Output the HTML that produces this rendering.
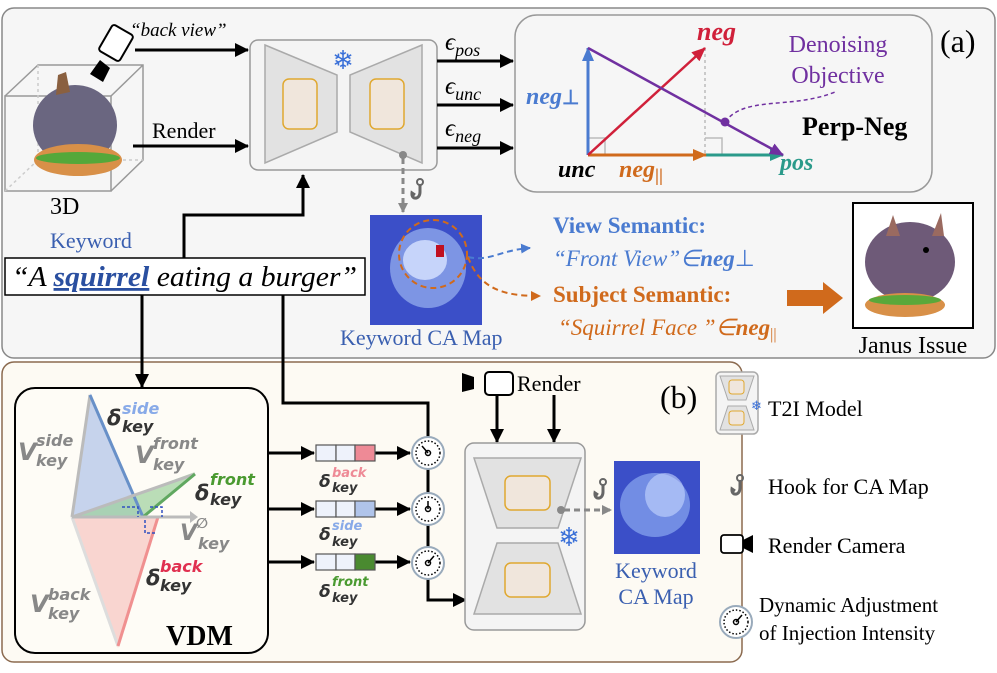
<!DOCTYPE html>
<html><head><meta charset="utf-8"><style>
body{margin:0;background:#fff}
svg text{font-family:"Liberation Serif",serif}
.sb{font-family:"DejaVu Sans",sans-serif;font-weight:bold;font-style:italic}
</style></head><body>
<svg width="997" height="668" viewBox="0 0 997 668" xmlns="http://www.w3.org/2000/svg">
<defs>
<marker id="ak" markerWidth="14" markerHeight="14" refX="13" refY="7" orient="auto" markerUnits="userSpaceOnUse"><path d="M0,0 L14,7 L0,14z" fill="#000"/></marker>
<marker id="ag" markerWidth="10" markerHeight="10" refX="9" refY="5" orient="auto" markerUnits="userSpaceOnUse"><path d="M0,0 L10,5 L0,10z" fill="#888"/></marker>
<marker id="ar" markerWidth="14" markerHeight="12" refX="13" refY="6" orient="auto" markerUnits="userSpaceOnUse"><path d="M0,0 L14,6 L0,12z" fill="#d0203a"/></marker>
<marker id="abl" markerWidth="14" markerHeight="12" refX="13" refY="6" orient="auto" markerUnits="userSpaceOnUse"><path d="M0,0 L14,6 L0,12z" fill="#4a7bd0"/></marker>
<marker id="ate" markerWidth="14" markerHeight="12" refX="13" refY="6" orient="auto" markerUnits="userSpaceOnUse"><path d="M0,0 L14,6 L0,12z" fill="#2a9a8a"/></marker>
<marker id="aor" markerWidth="14" markerHeight="12" refX="13" refY="6" orient="auto" markerUnits="userSpaceOnUse"><path d="M0,0 L14,6 L0,12z" fill="#d06a1c"/></marker>
<marker id="apu" markerWidth="14" markerHeight="12" refX="13" refY="6" orient="auto" markerUnits="userSpaceOnUse"><path d="M0,0 L14,6 L0,12z" fill="#7030a0"/></marker>
<marker id="adb" markerWidth="10" markerHeight="10" refX="9" refY="5" orient="auto" markerUnits="userSpaceOnUse"><path d="M0,0 L10,5 L0,10z" fill="#4a7bd0"/></marker>
<marker id="ado" markerWidth="10" markerHeight="10" refX="9" refY="5" orient="auto" markerUnits="userSpaceOnUse"><path d="M0,0 L10,5 L0,10z" fill="#d06a1c"/></marker>
<g id="dial"><circle r="16" fill="#fff" stroke="#9ab" stroke-width="2"/><circle r="12" fill="none" stroke="#000" stroke-width="1.5" stroke-dasharray="1.5 2"/><circle r="2.5" fill="none" stroke="#000" stroke-width="1.5"/></g>
<g id="hook"><circle cx="0" cy="-8" r="3" fill="none" stroke="#666" stroke-width="2"/><path d="M0,-5 V2 M0,2 C0,10 -9,10 -8,3 L-5,5" fill="none" stroke="#666" stroke-width="3"/></g>
</defs>

<rect x="2" y="8" width="993" height="350" rx="12" fill="#f6f6f6" stroke="#888" stroke-width="1.5"/>
<rect x="2" y="362" width="740" height="300" rx="12" fill="#fdfaf3" stroke="#8b6a4f" stroke-width="1.5"/>

<g fill="none" stroke="#999" stroke-width="1.5">
<rect x="5" y="96" width="106" height="95"/>
<path d="M5,96 L38,65 L143,65 L143,160 L111,191 M111,96 L143,65"/>
<path d="M38,65 V160 H143 M38,160 L5,191" stroke-dasharray="3 3" stroke="#ccc"/>
</g>
<ellipse cx="75" cy="125" rx="42" ry="40" fill="#6a6680"/>
<ellipse cx="78" cy="160" rx="44" ry="16" fill="#d89048"/>
<ellipse cx="78" cy="158" rx="42" ry="6" fill="#55a83a"/>
<path d="M58,75 L66,72 L70,92 L56,95z" fill="#8a6040"/>
<rect x="104" y="28" width="24" height="30" rx="3" transform="rotate(30 116 43)" fill="#fff" stroke="#000" stroke-width="2"/>
<path d="M100,60 L110,68 L103,82 L90,74z" fill="#000"/>
<text x="130" y="36" font-size="19" font-style="italic">“back view”</text>
<line x1="135" y1="50" x2="248" y2="50" stroke="#000" stroke-width="3" marker-end="url(#ak)"/>
<text x="152" y="138" font-size="22">Render</text>
<line x1="133" y1="146" x2="248" y2="146" stroke="#000" stroke-width="3" marker-end="url(#ak)"/>
<text x="50" y="214" font-size="24">3D</text>

<rect x="250" y="40" width="187" height="130" rx="8" fill="#f4f4f4" stroke="#999" stroke-width="1.5"/>
<path d="M265,45 L337,75 L337,132 L265,163z" fill="#e2e2e2" stroke="#aaa" stroke-width="1.5"/>
<path d="M422,45 L350,75 L350,132 L422,163z" fill="#e2e2e2" stroke="#aaa" stroke-width="1.5"/>
<rect x="283" y="79" width="34" height="50" rx="6" fill="#f0e6dc" stroke="#e0a830" stroke-width="1.5"/>
<rect x="370" y="79" width="34" height="50" rx="6" fill="#f0e6dc" stroke="#e0a830" stroke-width="1.5"/>
<text x="343" y="69" font-size="26" fill="#3a70d8" text-anchor="middle" font-family="DejaVu Sans">❄</text>
<circle cx="403" cy="155" r="4" fill="#888"/>
<line x1="403" y1="158" x2="403" y2="212" stroke="#888" stroke-width="3" stroke-dasharray="6 4" marker-end="url(#ag)"/>
<use href="#hook" x="420" y="190"/>

<text x="445" y="50" font-size="25" font-style="italic">ϵ<tspan font-size="18" dy="6">pos</tspan></text>
<text x="445" y="94" font-size="25" font-style="italic">ϵ<tspan font-size="18" dy="6">unc</tspan></text>
<text x="445" y="136" font-size="25" font-style="italic">ϵ<tspan font-size="18" dy="6">neg</tspan></text>
<line x1="437" y1="61" x2="513" y2="61" stroke="#000" stroke-width="3" marker-end="url(#ak)"/>
<line x1="437" y1="105" x2="513" y2="105" stroke="#000" stroke-width="3" marker-end="url(#ak)"/>
<line x1="437" y1="148" x2="513" y2="148" stroke="#000" stroke-width="3" marker-end="url(#ak)"/>

<rect x="515" y="15" width="417" height="177" rx="22" fill="#f6f6f6" stroke="#999" stroke-width="1.5"/>
<line x1="705" y1="48" x2="705" y2="155" stroke="#bbb" stroke-width="1.5" stroke-dasharray="3 3"/>
<path d="M588,138 H605 V155 M705,138 H722 V155" fill="none" stroke="#bbb" stroke-width="1.5"/>
<line x1="588" y1="155" x2="783" y2="155" stroke="#2a9a8a" stroke-width="3" marker-end="url(#ate)"/>
<line x1="588" y1="155" x2="706" y2="155" stroke="#d06a1c" stroke-width="3" marker-end="url(#aor)"/>
<line x1="588" y1="155" x2="588" y2="48" stroke="#4a7bd0" stroke-width="3" marker-end="url(#abl)"/>
<line x1="588" y1="155" x2="705" y2="48" stroke="#d0203a" stroke-width="2.5" marker-end="url(#ar)"/>
<line x1="588" y1="48" x2="783" y2="155" stroke="#7030a0" stroke-width="2.5" marker-end="url(#apu)"/>
<circle cx="725" cy="122" r="4.5" fill="#7030a0"/>
<path d="M725,122 C745,95 790,110 835,92" fill="none" stroke="#7030a0" stroke-width="1.5" stroke-dasharray="4 3"/>
<text x="697" y="40" font-size="26" font-weight="bold" font-style="italic" fill="#d0203a">neg</text>
<text x="838" y="52" font-size="24" fill="#7030a0" text-anchor="middle">Denoising</text>
<text x="838" y="83" font-size="24" fill="#7030a0" text-anchor="middle">Objective</text>
<text x="802" y="135" font-size="26" font-weight="bold">Perp-Neg</text>
<text x="526" y="104" font-size="24" font-weight="bold" font-style="italic" fill="#4a7bd0">neg<tspan font-size="20" font-style="normal">⊥</tspan></text>
<text x="558" y="177" font-size="24" font-weight="bold" font-style="italic">unc</text>
<text x="619" y="177" font-size="24" font-weight="bold" font-style="italic" fill="#d06a1c">neg<tspan font-size="18" dy="4" font-style="normal">||</tspan></text>
<text x="780" y="170" font-size="24" font-weight="bold" font-style="italic" fill="#2a9a8a">pos</text>
<text x="940" y="52" font-size="32">(a)</text>

<rect x="370" y="215" width="112" height="110" fill="#3b4fc8"/>
<ellipse cx="428" cy="268" rx="38" ry="40" fill="#9ab4f0" opacity="0.7"/>
<ellipse cx="425" cy="260" rx="22" ry="20" fill="#d8e4ff" opacity="0.8"/>
<rect x="436" y="245" width="8" height="12" fill="#c01020"/>
<circle cx="433" cy="254" r="34" fill="none" stroke="#d06a1c" stroke-width="2" stroke-dasharray="6 4"/>
<text x="340" y="345" font-size="22" fill="#3a5fb0">Keyword CA Map</text>
<path d="M468,257 C490,262 500,250 530,248" fill="none" stroke="#4a7bd0" stroke-width="2" stroke-dasharray="6 4" marker-end="url(#adb)"/>
<path d="M468,257 C480,290 505,296 540,296" fill="none" stroke="#d06a1c" stroke-width="2" stroke-dasharray="6 4" marker-end="url(#ado)"/>
<text x="553" y="233" font-size="23" font-weight="bold" fill="#4a7bd0">View Semantic:</text>
<text x="553" y="266" font-size="23" font-style="italic" fill="#4a7bd0">“Front View”∈<tspan font-weight="bold">neg</tspan><tspan font-style="normal">⊥</tspan></text>
<text x="553" y="302" font-size="23" font-weight="bold" fill="#d06a1c">Subject Semantic:</text>
<text x="558" y="335" font-size="23" font-style="italic" fill="#d06a1c">“Squirrel Face ”∈<tspan font-weight="bold">neg</tspan><tspan font-size="16" dy="4" font-style="normal">||</tspan></text>
<path d="M787,290 H823 V282 L843,298 L823,314 V306 H787z" fill="#d06a1c"/>
<rect x="853" y="203" width="120" height="125" fill="#fff" stroke="#000" stroke-width="2"/>
<ellipse cx="910" cy="262" rx="45" ry="40" fill="#6e5a78"/>
<ellipse cx="905" cy="305" rx="40" ry="12" fill="#d89048"/>
<ellipse cx="905" cy="300" rx="36" ry="5" fill="#5aa83a"/>
<path d="M893,215 L900,236 L886,236z M941,213 L944,236 L932,236z" fill="#9a6a60"/>
<circle cx="926" cy="250" r="3" fill="#000"/>
<text x="913" y="353" font-size="24" text-anchor="middle">Janus Issue</text>

<text x="50" y="248" font-size="22" fill="#3a5fb0">Keyword</text>
<rect x="5" y="258" width="360" height="37" fill="#fff" stroke="#000" stroke-width="1.5"/>
<text x="12" y="286" font-size="28" font-style="italic" textLength="345" lengthAdjust="spacingAndGlyphs">“A <tspan font-weight="bold" fill="#2a4fa0" text-decoration="underline">squirrel</tspan> eating a burger”</text>
<path d="M184,258 V215 H303 V175" fill="none" stroke="#000" stroke-width="3" marker-end="url(#ak)"/>
<line x1="142" y1="295" x2="142" y2="387" stroke="#000" stroke-width="3" marker-end="url(#ak)"/>
<path d="M283,295 V403 H428 V436" fill="none" stroke="#000" stroke-width="3"/>

<rect x="15" y="388" width="253" height="265" rx="20" fill="#fefcf6" stroke="#000" stroke-width="2"/>
<path d="M72,517 L90,393 L143,517z" fill="#aec2e8" opacity="0.7"/>
<path d="M72,517 L195,472 L143,517z" fill="#9cd09c" opacity="0.7"/>
<path d="M72,517 L118,648 L158,517z" fill="#f6c4c0" opacity="0.7"/>
<g stroke-width="3" fill="none">
<line x1="72" y1="517" x2="90" y2="395" stroke="#bbb"/>
<line x1="143" y1="517" x2="90" y2="395" stroke="#6890c8"/>
<line x1="72" y1="517" x2="195" y2="474" stroke="#bbb"/>
<line x1="143" y1="517" x2="195" y2="474" stroke="#60a860"/>
<line x1="72" y1="517" x2="118" y2="646" stroke="#ddd"/>
<line x1="158" y1="517" x2="118" y2="646" stroke="#f09090"/>
<line x1="72" y1="517" x2="192" y2="517" stroke="#bbb"/>
</g>
<path d="M190,511 L198,517 L190,523z" fill="#bbb"/>
<path d="M122,507 H138 V517 M150,507 H162 V517 M145,520 V533 H155" fill="none" stroke-dasharray="3 2" stroke-width="1.5" stroke="#3050c0"/>
<text class="sb" x="107" y="425" font-size="21" fill="#333">δ</text><text class="sb" x="122" y="414" font-size="16" fill="#88aae8">side</text><text class="sb" x="122" y="432" font-size="16" fill="#333">key</text>
<text class="sb" x="18" y="460" font-size="24" fill="#888">V</text><text class="sb" x="36" y="446" font-size="16" fill="#888">side</text><text class="sb" x="36" y="466" font-size="16" fill="#888">key</text>
<text class="sb" x="135" y="463" font-size="24" fill="#888">V</text><text class="sb" x="153" y="449" font-size="16" fill="#888">front</text><text class="sb" x="153" y="470" font-size="16" fill="#888">key</text>
<text class="sb" x="195" y="500" font-size="21" fill="#333">δ</text><text class="sb" x="210" y="485" font-size="16" fill="#4a9a30">front</text><text class="sb" x="210" y="505" font-size="16" fill="#333">key</text>
<text class="sb" x="180" y="540" font-size="22" fill="#888">V</text><text class="sb" x="196" y="528" font-size="14" fill="#888">∅</text><text class="sb" x="198" y="549" font-size="16" fill="#888">key</text>
<text class="sb" x="146" y="585" font-size="21" fill="#333">δ</text><text class="sb" x="160" y="572" font-size="16" fill="#e03050">back</text><text class="sb" x="160" y="591" font-size="16" fill="#333">key</text>
<text class="sb" x="30" y="612" font-size="24" fill="#888">V</text><text class="sb" x="48" y="600" font-size="16" fill="#888">back</text><text class="sb" x="48" y="619" font-size="16" fill="#888">key</text>
<text x="166" y="645" font-size="28" font-weight="bold">VDM</text>

<g stroke="#000" stroke-width="3">
<line x1="268" y1="453" x2="314" y2="453" marker-end="url(#ak)"/>
<line x1="268" y1="509" x2="314" y2="509" marker-end="url(#ak)"/>
<line x1="268" y1="562" x2="314" y2="562" marker-end="url(#ak)"/>
<line x1="375" y1="453" x2="410" y2="453" marker-end="url(#ak)"/>
<line x1="375" y1="509" x2="410" y2="509" marker-end="url(#ak)"/>
<line x1="375" y1="562" x2="410" y2="562" marker-end="url(#ak)"/>
</g>
<g stroke="#555" stroke-width="1.2">
<rect x="316" y="445" width="20" height="16" fill="#eef2fb"/><rect x="336" y="445" width="19" height="16" fill="#eef2fb"/><rect x="355" y="445" width="20" height="16" fill="#ee8a96"/>
<rect x="316" y="501" width="20" height="16" fill="#eef2fb"/><rect x="336" y="501" width="19" height="16" fill="#eef2fb"/><rect x="355" y="501" width="20" height="16" fill="#b0c4ea"/>
<rect x="316" y="554" width="20" height="16" fill="#eef2fb"/><rect x="336" y="554" width="19" height="16" fill="#eef2fb"/><rect x="355" y="554" width="20" height="16" fill="#4a8a30"/>
</g>
<text class="sb" x="319" y="487" font-size="17" fill="#333">δ</text><text class="sb" x="332" y="477" font-size="13" fill="#ee8a96">back</text><text class="sb" x="332" y="492" font-size="13" fill="#333">key</text>
<text class="sb" x="319" y="540" font-size="17" fill="#333">δ</text><text class="sb" x="332" y="530" font-size="13" fill="#88aae8">side</text><text class="sb" x="332" y="546" font-size="13" fill="#333">key</text>
<text class="sb" x="319" y="597" font-size="17" fill="#333">δ</text><text class="sb" x="332" y="586" font-size="13" fill="#4a9a30">front</text><text class="sb" x="332" y="602" font-size="13" fill="#333">key</text>
<path d="M428,436 V600 H466" fill="none" stroke="#000" stroke-width="3" marker-end="url(#ak)"/>
<use href="#dial" x="428" y="453"/><line x1="428" y1="453" x2="422" y2="446" stroke="#000" stroke-width="1.5"/>
<use href="#dial" x="428" y="509"/><line x1="428" y1="509" x2="428" y2="501" stroke="#000" stroke-width="1.5"/>
<use href="#dial" x="428" y="563"/><line x1="428" y1="563" x2="434" y2="556" stroke="#000" stroke-width="1.5"/>

<path d="M462,373 L474,377 V389 L462,392z" fill="#000"/>
<rect x="485" y="372" width="28" height="23" rx="4" fill="#fff" stroke="#000" stroke-width="2"/>
<text x="517" y="391" font-size="22">Render</text>
<line x1="497" y1="395" x2="497" y2="442" stroke="#000" stroke-width="3" marker-end="url(#ak)"/>
<line x1="554" y1="395" x2="554" y2="442" stroke="#000" stroke-width="3" marker-end="url(#ak)"/>
<rect x="465" y="443" width="120" height="187" rx="9" fill="#f4f4f4" stroke="#999" stroke-width="1.5"/>
<path d="M474,458 L581,458 L558,528 L497,528z" fill="#e2e2e2" stroke="#aaa" stroke-width="1.5"/>
<path d="M497,543 L558,543 L581,614 L474,614z" fill="#e2e2e2" stroke="#aaa" stroke-width="1.5"/>
<rect x="505" y="476" width="45" height="34" rx="6" fill="#f0e6dc" stroke="#e0a830" stroke-width="1.5"/>
<rect x="505" y="563" width="45" height="34" rx="6" fill="#f0e6dc" stroke="#e0a830" stroke-width="1.5"/>
<text x="569" y="546" font-size="26" fill="#3a70d8" text-anchor="middle" font-family="DejaVu Sans">❄</text>
<circle cx="561" cy="510" r="4" fill="#888"/>
<line x1="564" y1="510" x2="611" y2="510" stroke="#888" stroke-width="3" stroke-dasharray="6 4" marker-end="url(#ag)"/>
<use href="#hook" x="603" y="490"/>
<rect x="614" y="461" width="86" height="93" fill="#3b4fc8"/>
<ellipse cx="655" cy="505" rx="35" ry="32" fill="#8aa8f0" opacity="0.7"/>
<ellipse cx="665" cy="495" rx="20" ry="22" fill="#c8d8ff" opacity="0.6"/>
<text x="656" y="578" font-size="22" fill="#3a5fb0" text-anchor="middle">Keyword</text>
<text x="656" y="604" font-size="22" fill="#3a5fb0" text-anchor="middle">CA Map</text>
<text x="660" y="408" font-size="32">(b)</text>

<rect x="716" y="372" width="42" height="62" rx="5" fill="#f4f4f4" stroke="#aaa" stroke-width="1.5"/>
<path d="M720,376 H754 L746,400 H728z M728,406 H746 L754,430 H720z" fill="#e2e2e2" stroke="#aaa"/>
<rect x="729" y="380" width="15" height="14" rx="3" fill="#f0e6dc" stroke="#e0a830"/>
<rect x="729" y="411" width="15" height="14" rx="3" fill="#f0e6dc" stroke="#e0a830"/>
<text x="751" y="410" font-size="13" fill="#3a70d8" font-family="DejaVu Sans">❄</text>
<text x="768" y="416" font-size="22">T2I Model</text>
<use href="#hook" x="740" y="486" transform="scale(1)"/>
<text x="768" y="494" font-size="22">Hook for CA Map</text>
<rect x="721" y="535" width="22" height="18" rx="3" fill="#fff" stroke="#000" stroke-width="1.8"/>
<path d="M743,540 L753,535 V553 L743,548z" fill="#000"/>
<text x="768" y="553" font-size="22">Render Camera</text>
<use href="#dial" x="736" y="622"/><line x1="736" y1="622" x2="742" y2="615" stroke="#000" stroke-width="1.5"/>
<text x="759" y="612" font-size="21">Dynamic Adjustment</text>
<text x="759" y="640" font-size="21">of Injection Intensity</text>
</svg>
</body></html>
